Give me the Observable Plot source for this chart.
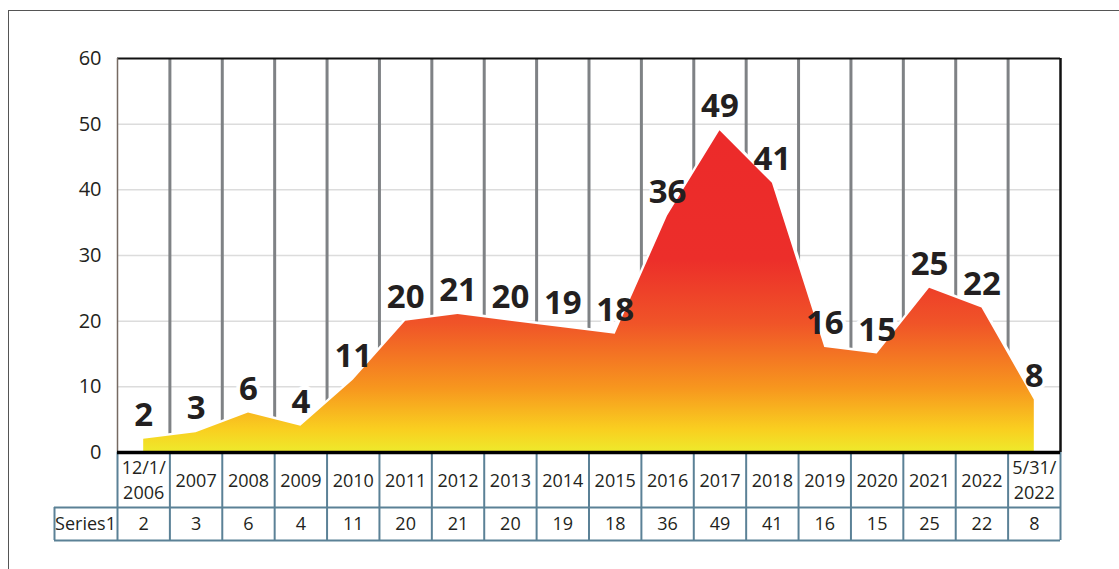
<!DOCTYPE html>
<html><head><meta charset="utf-8">
<script src="https://cdn.jsdelivr.net/npm/d3@7"></script>
<script src="https://cdn.jsdelivr.net/npm/@observablehq/plot@0.6"></script>
<style>
body{margin:0;background:#fff;overflow:hidden;width:1119px;height:569px}
#frame{position:absolute;left:8px;top:10px;width:1125px;height:575px;border:1.5px solid #555;box-sizing:border-box}
#chart{position:absolute;left:0;top:0}
</style></head><body>
<div id="frame"></div><div id="chart"></div>
<script>
const categories = ["12/1/\n2006","2007","2008","2009","2010","2011","2012","2013","2014","2015","2016","2017","2018","2019","2020","2021","2022","5/31/\n2022"];
const values = [2,3,6,4,11,20,21,20,19,18,36,49,41,16,15,25,22,8];
const seriesName = "Series1";
const yTicks = [0,10,20,30,40,50,60];

const data = categories.map((c, i) => ({cat: c, value: values[i], pos: i + 0.5}));
const n = categories.length;
const bounds = d3.range(n + 1);
const inner = d3.range(1, n);
const tableColor = "#5b8196";
const ink = "#231f20";
const labelOpts = {x: "pos", y: "value", text: d => String(d.value), dy: -24, fontSize: 33, fontWeight: 700};

const chart = Plot.plot({
  width: 1119, height: 569,
  marginTop: 58, marginBottom: 117, marginLeft: 117, marginRight: 59,
  style: {fontFamily: "'Open Sans', sans-serif", color: ink, background: "transparent", overflow: "visible"},
  x: {type: "linear", domain: [0, n], axis: null},
  y: {domain: [0, 60], axis: null},
  marks: [
    Plot.ruleY(yTicks.filter(t => t > 0 && t < 60), {stroke: "#dcdcdc", strokeWidth: 1.5}),
    Plot.ruleX(inner, {stroke: "#7f8285", strokeWidth: 3}),
    // white boxes behind labels (cut grid lines only)
    Plot.text(data, {...labelOpts, fill: "white", stroke: "white", strokeWidth: 8}),
    Plot.line(data, {x: "pos", y: "value", stroke: "white", strokeWidth: 6}),
    Plot.areaY(data, {x: "pos", y: "value", fill: "url(#areaGrad)"}),
    Plot.ruleY([60], {stroke: "#111", strokeWidth: 2}),
    Plot.ruleX([0], {stroke: "#766a62", strokeWidth: 1.5}),
    Plot.ruleX([n], {stroke: "#111", strokeWidth: 2.5}),
    // table
    Plot.ruleX(bounds, {stroke: tableColor, strokeWidth: 2, insetTop: 394, insetBottom: -88}),
    Plot.ruleX([0], {stroke: tableColor, strokeWidth: 2, insetTop: 449, insetBottom: -88, dx: -63}),
    Plot.ruleY([0], {x1: d => 0, x2: d => n, stroke: tableColor, strokeWidth: 2, dy: 55, insetLeft: -63}),
    Plot.ruleY([0], {x1: d => 0, x2: d => n, stroke: tableColor, strokeWidth: 2, dy: 88, insetLeft: -63}),
    Plot.ruleY([0], {stroke: "#000", strokeWidth: 3.5}),
    Plot.text(data, {x: "pos", frameAnchor: "bottom", lineAnchor: "middle", dy: 26, text: d => d.cat, fontSize: 18, lineHeight: 1.4, fill: ink}),
    Plot.text(data, {x: "pos", frameAnchor: "bottom", lineAnchor: "middle", dy: 72, text: d => String(d.value), fontSize: 18, fill: ink}),
    Plot.text([seriesName], {x: d => 0, frameAnchor: "bottom", lineAnchor: "middle", dy: 72, dx: -32, text: d => d, fontSize: 18, fill: ink}),
    // y axis
    Plot.axisY({ticks: yTicks, tickSize: 0, tickPadding: 16, fontSize: 20, fill: ink, label: null}),
    // data labels
    Plot.text(data, {...labelOpts, fill: ink})
  ]
});

const ys = chart.scale("y");
const ns = "http://www.w3.org/2000/svg";
const defs = document.createElementNS(ns, "defs");
const grad = document.createElementNS(ns, "linearGradient");
grad.setAttribute("id", "areaGrad");
grad.setAttribute("gradientUnits", "userSpaceOnUse");
grad.setAttribute("x1", 0); grad.setAttribute("x2", 0);
grad.setAttribute("y1", ys.apply(0)); grad.setAttribute("y2", ys.apply(d3.max(values)));
[[0, "#eeea2b"], [0.07, "#f9cf20"], [0.2, "#f7961e"], [0.4, "#f05428"], [0.6, "#ec2e2a"], [1, "#ec2a2a"]].forEach(([o, c]) => {
  const s = document.createElementNS(ns, "stop");
  s.setAttribute("offset", o); s.setAttribute("stop-color", c);
  grad.appendChild(s);
});
defs.appendChild(grad);
chart.insertBefore(defs, chart.firstChild);
document.getElementById("chart").appendChild(chart);
</script>
</body></html>
